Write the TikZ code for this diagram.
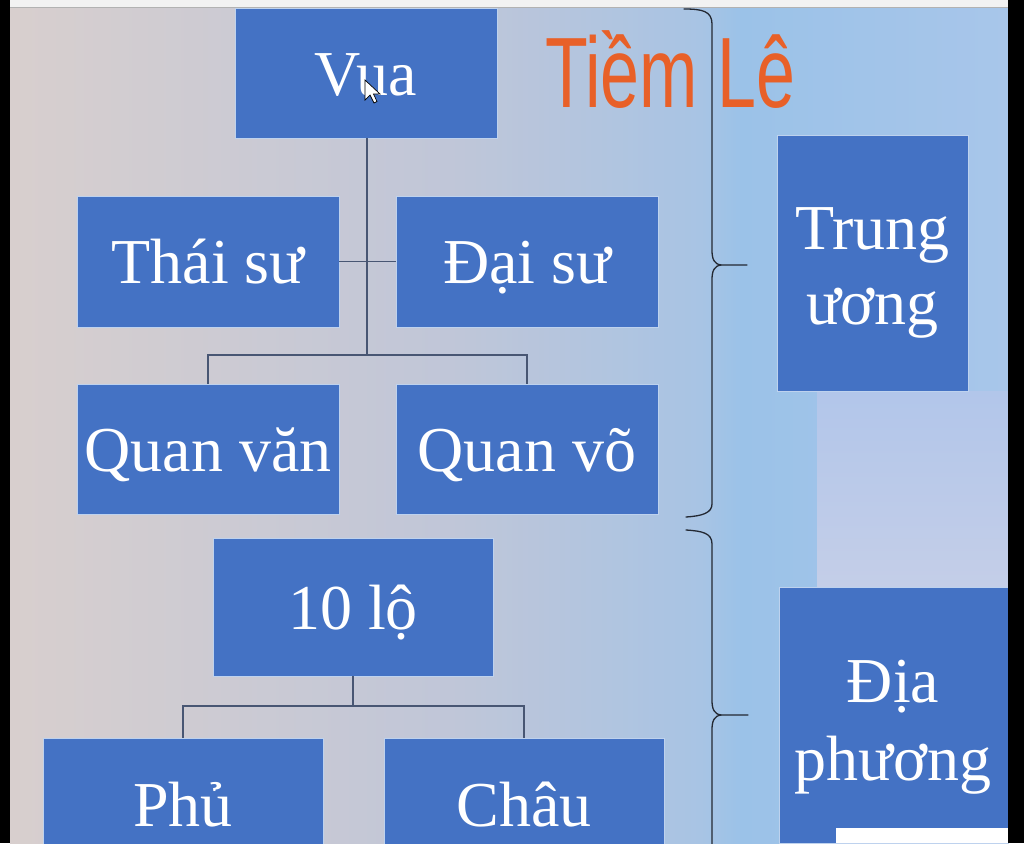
\documentclass[tikz,border=0pt]{standalone}
\usepackage{fontspec}
\setmainfont{Liberation Serif}
\newfontfamily\handfont{Liberation Sans}
\definecolor{bgA}{RGB}{216,207,206}
\definecolor{bgB}{RGB}{192,198,216}
\definecolor{bgC}{RGB}{168,196,228}
\definecolor{bgD}{RGB}{155,194,232}
\definecolor{bgE}{RGB}{168,198,234}
\definecolor{bgLightTop}{RGB}{178,198,234}
\definecolor{bgLightBot}{RGB}{196,206,232}
\definecolor{boxblue}{RGB}{68,114,196}
\definecolor{boxedge}{RGB}{190,210,238}
\definecolor{linecol}{RGB}{72,86,115}
\definecolor{bracecol}{RGB}{35,40,50}
\definecolor{handcol}{RGB}{232,96,40}
\definecolor{topstrip}{RGB}{242,242,242}
\pgfdeclarehorizontalshading{bgshade}{100bp}{color(0bp)=(bgA); color(25bp)=(bgA); color(47bp)=(bgB); color(59.6bp)=(bgC); color(61.6bp)=(bgD); color(75bp)=(bgE); color(100bp)=(bgE)}
\begin{document}
\begin{tikzpicture}[x=1pt,y=-1pt,
  orgbox/.style={draw=boxedge, line width=0.8pt, fill=boxblue, text=white,
    font=\fontsize{64}{76}\selectfont, inner sep=0pt,
    text height=44pt, text depth=0pt},
  sidetext/.style={text=white, align=center, inner sep=0pt},
  orgline/.style={draw=linecol, line width=1.3pt},
  bracepath/.style={draw=bracecol, line width=1.3pt, line cap=round}]
\clip (0,0) rectangle (1024,843);
% background
\shade[shading=bgshade] (10,0) rectangle (1008,843);
\shade[top color=bgLightTop, bottom color=bgLightBot] (817,391) rectangle (1008,587);
\fill[topstrip] (10,0) rectangle (1008,7);
\draw[gray!60, line width=0.8pt] (10,7.5) -- (1008,7.5);

% boxes
\node[orgbox, minimum width=262pt, minimum height=130pt] (vua) at (366,73) {Vua};
\node[orgbox, minimum width=262pt, minimum height=131pt] (thai) at (208,261.5) {Thái sư};
\node[orgbox, minimum width=262pt, minimum height=131pt] (dai) at (527,261.5) {Đại sư};
\node[orgbox, minimum width=262pt, minimum height=130pt] (van) at (208,449) {Quan văn};
\node[orgbox, minimum width=262pt, minimum height=130pt] (vo) at (527,449) {Quan võ};
\node[orgbox, minimum width=280pt, minimum height=138pt] (lo) at (353,607) {10 lộ};
\node[orgbox, minimum width=280pt, minimum height=132pt] (phu) at (183,804) {Phủ};
\node[orgbox, minimum width=280pt, minimum height=132pt] (chau) at (524,804) {Châu};
\node[orgbox, minimum width=191pt, minimum height=256pt] (tu) at (872.5,263) {};
\node[orgbox, minimum width=229pt, minimum height=256pt] (dp) at (893.5,715) {};
\node[sidetext, font=\fontsize{64}{75}\selectfont] (tutext) at ([yshift=-10pt]tu.center) {Trung\\ương};
\node[sidetext, font=\fontsize{64}{78}\selectfont] (dptext) at (893,727) {Địa\\phương};

% connectors
\coordinate (j1) at (367,355);
\coordinate (j2) at (353,706);
\draw[orgline] (vua.south -| j1) -- (j1);
\draw[orgline] (thai.east) -- (dai.west);
\draw[orgline] (van.north) |- (j1) -| (vo.north);
\draw[orgline] (lo.south -| j2) -- (j2);
\draw[orgline] (phu.north) |- (j2) -| (chau.north);

% braces
\coordinate (b1tip) at (747,265);
\coordinate (b2tip) at (748,715);
\draw[bracepath] (684,9) .. controls (702,9) and (712,11) .. (712,24) -- (712,250)
  .. controls (712,259) and (714,264) .. (721,265) -- (b1tip);
\draw[bracepath] (721,265) .. controls (714,266) and (712,271) .. (712,280) -- (712,504)
  .. controls (712,513) and (702,516) .. (686,517);
\draw[bracepath] (686,530) .. controls (702,531) and (712,533) .. (712,544) -- (712,700)
  .. controls (712,709) and (714,714) .. (721,715) -- (b2tip);
\draw[bracepath] (721,715) .. controls (714,716) and (712,721) .. (712,730) -- (712,850);

% handwritten annotation
\node[anchor=base west, xscale=0.7, inner sep=0pt, text=handcol,
  font=\handfont\fontsize{100}{100}\selectfont] (hand) at (545,107) {Tiềm Lê};

% mouse cursor
\filldraw[fill=white, draw=black, line width=0.7pt] (365,80) -- (365,100) -- (370,95)
  -- (374,103) -- (377,101.5) -- (373.5,94) -- (380,94) -- cycle;

% frame strips
\fill[white] (836,828) rectangle (1008,843);
\fill[black] (0,0) rectangle (10,843);
\fill[black] (1008,0) rectangle (1024,843);
\end{tikzpicture}
\end{document}
